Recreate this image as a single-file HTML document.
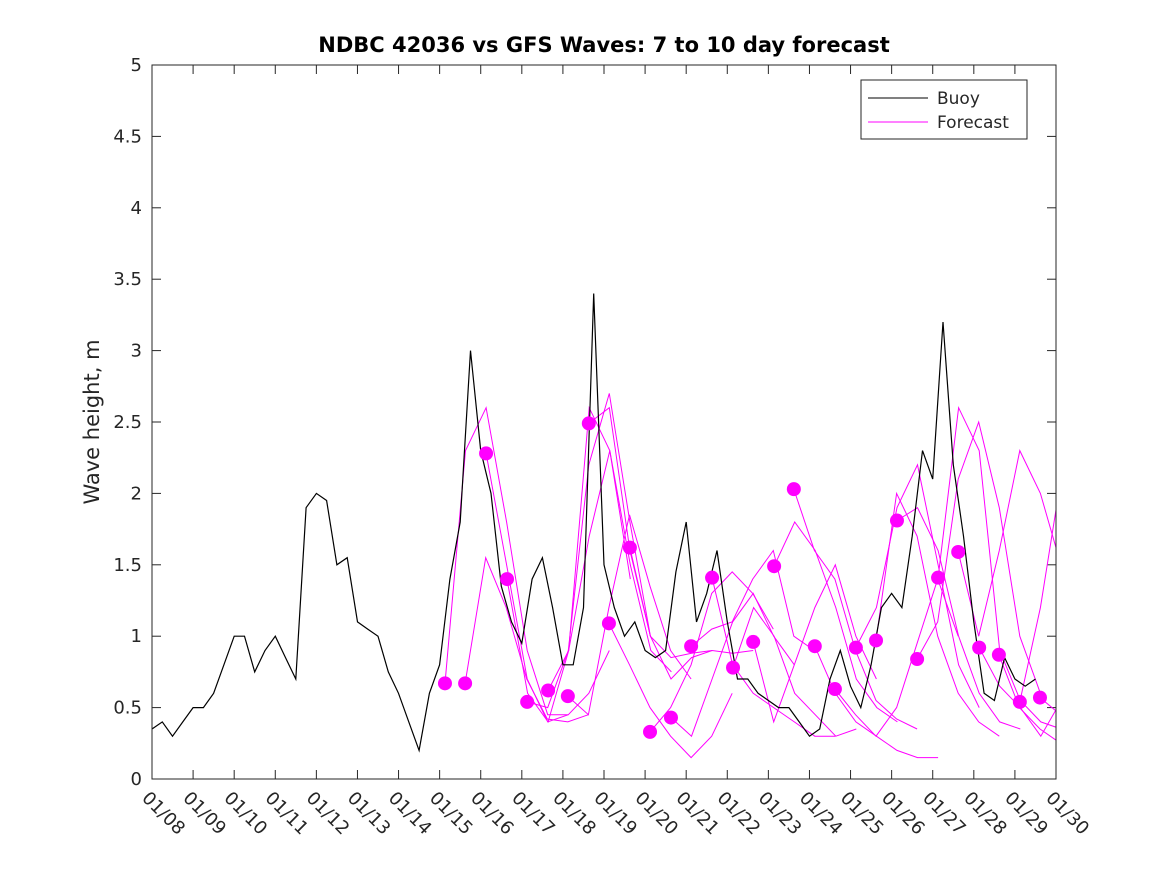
<!DOCTYPE html>
<html><head><meta charset="utf-8">
<style>
body{margin:0;background:#fff;}
svg text{font-family:"DejaVu Sans","Liberation Sans",sans-serif;fill:#262626;}
</style></head>
<body>
<svg id="chart" width="1167" height="875" viewBox="0 0 1167 875" xmlns="http://www.w3.org/2000/svg">
<rect width="1167" height="875" fill="#fff"/>
<defs><clipPath id="plotclip"><rect x="152" y="65" width="904" height="714"/></clipPath></defs>
<text x="604" y="52" text-anchor="middle" font-size="21" font-weight="bold" style="fill:#000">NDBC 42036 vs GFS Waves: 7 to 10 day forecast</text>
<text transform="translate(99,422) rotate(-90)" text-anchor="middle" font-size="21">Wave height, m</text>
<g id="axes"></g>
<g id="forecasts" clip-path="url(#plotclip)"></g>
<g id="buoy" clip-path="url(#plotclip)"></g>
<g id="dots" clip-path="url(#plotclip)"></g>
<rect x="152" y="65" width="904" height="714" fill="none" stroke="#262626" stroke-width="1"/>
<g>
<rect x="861" y="80" width="166" height="59" fill="#fff" stroke="#262626" stroke-width="1"/>
<line x1="868" y1="98" x2="928" y2="98" stroke="#000" stroke-width="1"/>
<text x="937" y="104" font-size="17">Buoy</text>
<line x1="868" y1="122" x2="928" y2="122" stroke="#ff00ff" stroke-width="1"/>
<text x="937" y="128" font-size="17">Forecast</text>
</g>
</svg>
<script>
const xTickLabels = ["01/08","01/09","01/10","01/11","01/12","01/13","01/14","01/15","01/16","01/17","01/18","01/19","01/20","01/21","01/22","01/23","01/24","01/25","01/26","01/27","01/28","01/29","01/30"];
const yTicks = [0,0.5,1,1.5,2,2.5,3,3.5,4,4.5,5];
const yTickLabels = ["0","0.5","1","1.5","2","2.5","3","3.5","4","4.5","5"];
const buoyStep = 0.25;
const buoyValues = [0.35,0.4,0.3,0.4, 0.5,0.5,0.6,0.8, 1.0,1.0,0.75,0.9, 1.0,0.85,0.7,1.9, 2.0,1.95,1.5,1.55, 1.1,1.05,1.0,0.75, 0.6,0.4,0.2,0.6, 0.8,1.4,1.8,3.0, 2.3,2.0,1.35,1.1, 0.95,1.4,1.55,1.2, 0.8,0.8,1.2,3.4, 1.5,1.2,1.0,1.1, 0.9,0.85,0.9,1.45, 1.8,1.1,1.3,1.6, 1.1,0.7,0.7,0.6, 0.55,0.5,0.5,0.4, 0.3,0.35,0.7,0.9, 0.65,0.5,0.8,1.2, 1.3,1.2,1.7,2.3, 2.1,3.2,2.2,1.7, 1.1,0.6,0.55,0.85, 0.7,0.65,0.7];
const forecastStart = [7.13,7.62,8.13,8.64,9.13,9.64,10.12,10.63,11.12,11.63,12.12,12.63,13.12,13.63,14.14,14.63,15.14,15.62,16.13,16.62,17.13,17.62,18.13,18.62,19.13,19.62,20.13,20.61,21.12,21.61];
const forecastStep = 0.5;
const forecastValues = [
[0.67,2.3,2.6,1.8,0.9,0.45,0.45],
[0.67,1.55,1.2,0.7,0.42,0.4,0.45],
[2.28,1.5,0.7,0.4,0.45,0.6,0.9],
[1.40,0.6,0.4,0.9,2.6,2.3,1.4],
[0.54,0.5,0.9,2.2,2.7,1.8,1.0],
[0.62,0.9,1.7,2.3,1.5,0.9,0.75],
[0.58,0.45,1.2,1.85,1.35,0.9,0.7],
[2.49,2.6,1.6,1.0,0.85,0.88,0.9],
[1.09,0.8,0.5,0.3,0.15,0.3,0.6],
[1.62,1.0,0.7,0.85,0.9,0.88,0.9],
[0.33,0.5,0.8,1.3,1.45,1.3,1.05],
[0.43,0.3,0.7,1.1,1.3,1.0,0.8],
[0.93,1.05,1.1,1.4,1.6,1.0,0.9],
[1.41,0.8,0.6,0.5,0.4,0.3,0.3],
[0.78,1.2,1.0,0.6,0.45,0.3,0.35],
[0.96,0.4,0.8,1.2,1.5,1.0,0.7],
[1.49,1.8,1.6,1.2,0.7,0.5,0.4],
[2.03,1.6,1.4,0.9,0.55,0.42,0.35],
[0.93,0.6,0.4,0.3,0.2,0.15,0.15],
[0.63,0.45,0.3,0.5,0.95,1.4,1.0],
[0.92,1.2,1.9,2.2,1.5,0.8,0.5],
[0.97,2.0,1.7,1.0,0.6,0.4,0.3],
[1.81,1.9,1.6,1.0,0.6,0.4,0.35],
[0.84,1.1,2.1,2.5,1.9,1.0,0.6],
[1.41,2.6,2.3,0.9,0.55,0.4,0.35],
[1.59,1.0,1.6,2.3,2.0,1.5,0.8],
[0.92,0.65,0.5,0.3,0.55,1.0,1.35],
[0.87,0.5,0.35,0.25,0.5,0.9,1.3],
[0.54,1.2,2.1,1.5,1.0,0.8,0.7],
[0.57,0.45,0.4,0.5,0.6,0.6,0.6]
];

const X0=152, X1=1056, Y0=779, Y1=65, TMAX=22, VMAX=5;
function xs(t){return X0+(X1-X0)*t/TMAX;}
function ys(v){return Y0-(Y0-Y1)*v/VMAX;}
const NS="http://www.w3.org/2000/svg";
function mk(tag,attrs,parent){const e=document.createElementNS(NS,tag);for(const k in attrs)e.setAttribute(k,attrs[k]);parent.appendChild(e);return e;}

const axes=document.getElementById('axes');
xTickLabels.forEach((lab,i)=>{
  const x=xs(i);
  const t1=mk('line',{x1:x,y1:Y0,x2:x,y2:Y0-9,stroke:'#262626'},axes);
  
  
  const t2=mk('line',{x1:x,y1:Y1,x2:x,y2:Y1+9,stroke:'#262626'},axes);
  
  
  const tx=mk('text',{transform:`translate(${x-11},${Y0+20}) rotate(45)`,'font-size':18},axes);
  tx.textContent=lab;
  
  
});
yTicks.forEach((v,i)=>{
  const y=ys(v);
  const t1=mk('line',{x1:X0,y1:y,x2:X0+9,y2:y,stroke:'#262626'},axes);
  
  
  const t2=mk('line',{x1:X1,y1:y,x2:X1-9,y2:y,stroke:'#262626'},axes);
  
  
  const tx=mk('text',{x:X0-10,y:y+6,'text-anchor':'end','font-size':18},axes);
  tx.textContent=yTickLabels[i];
  
  
});

const fg=document.getElementById('forecasts');
const dg=document.getElementById('dots');
forecastStart.forEach((t0,i)=>{
  const pts=forecastValues[i].map((v,j)=>xs(t0+j*forecastStep).toFixed(1)+','+ys(v).toFixed(1)).join(' ');
  const pl=mk('polyline',{points:pts,fill:'none',stroke:'#ff00ff','stroke-width':1},fg);
  
  
  const c=mk('circle',{cx:xs(t0),cy:ys(forecastValues[i][0]),r:7,fill:'#ff00ff'},dg);
  
  
});

const bg=document.getElementById('buoy');
const bpts=buoyValues.map((v,i)=>xs(i*buoyStep).toFixed(1)+','+ys(v).toFixed(1)).join(' ');
const bl=mk('polyline',{points:bpts,fill:'none',stroke:'#000','stroke-width':1.2},bg);


</script>
</body></html>
